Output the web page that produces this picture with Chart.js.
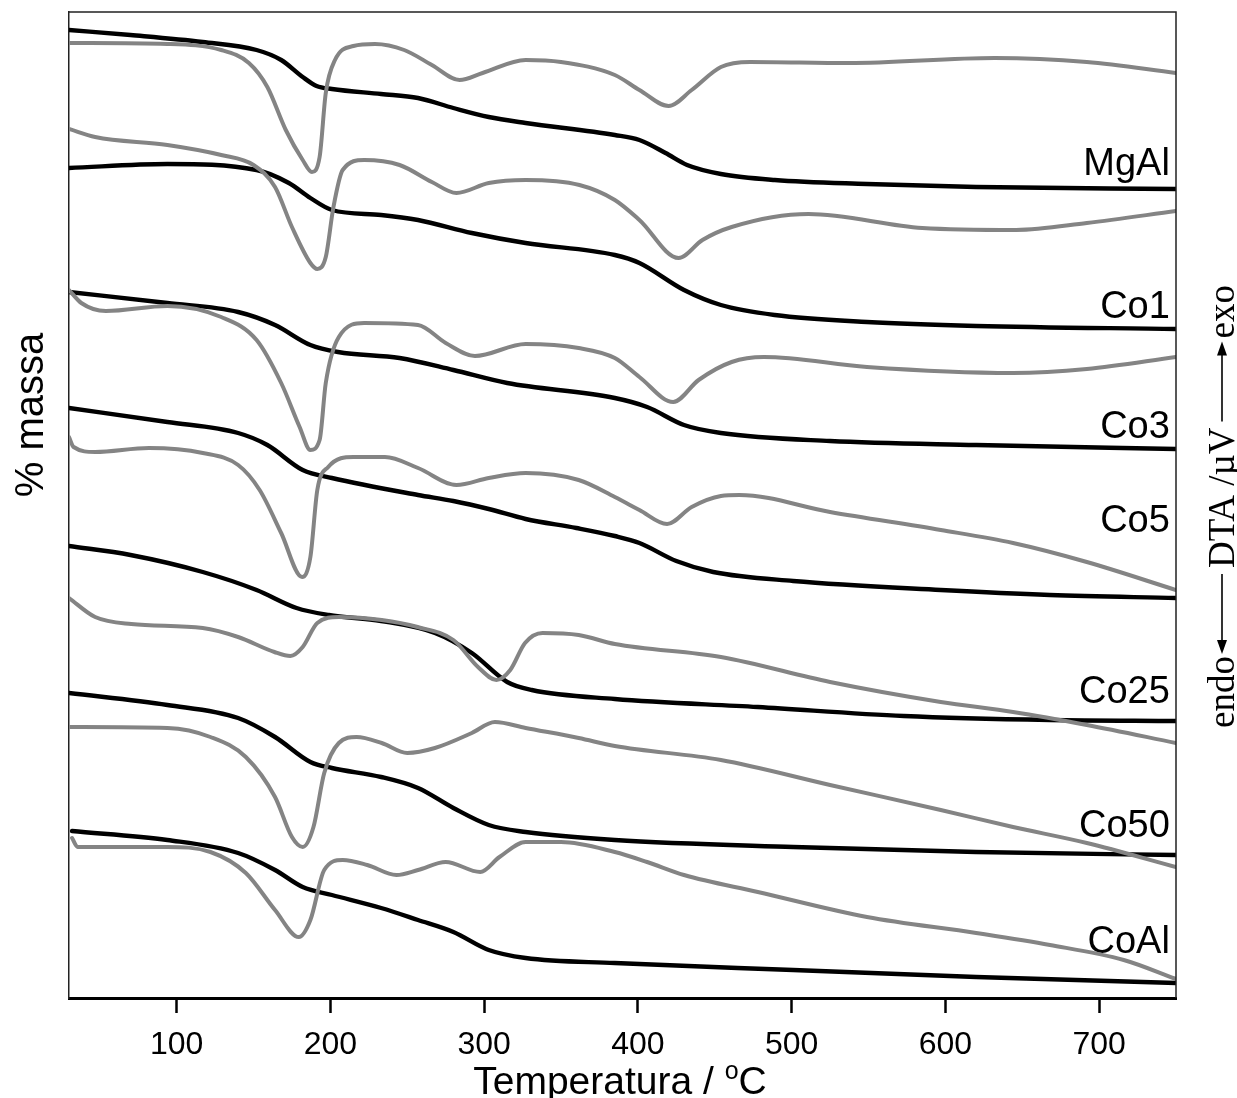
<!DOCTYPE html>
<html>
<head>
<meta charset="utf-8">
<script src="https://cdn.jsdelivr.net/npm/chart.js@4/dist/chart.umd.min.js"></script>
<style>
  html, body { margin: 0; padding: 0; background: #fff; }
  #wrap { width: 1237px; height: 1098px; }
</style>
</head>
<body>
<div id="wrap"><canvas id="tgdta"></canvas></div>
<script>
// samples, top to bottom
var samples = ['MgAl', 'Co1', 'Co3', 'Co5', 'Co25', 'Co50', 'CoAl'];

// TG curves: [temperature / °C, % massa (offset, a.u.)]
var tgMgAl = [[30,968],[70,963],[117,956],[152,948],[168,938],[182,921],[191,912],[201,909],[233,904],[257,900],[280,890],[303,881],[327,875],[385,863],[401,858],[418,845],[432,833],[454,824],[489,818],[549,814],[620,811],[750,809]];
var tgCo1 = [[30,830],[94,834],[152,828],[173,815],[187,800],[201,788],[233,783],[257,778],[292,765],[327,755],[385,743],[401,735],[430,708],[454,693],[489,683],[549,676],[620,672],[750,669]];
var tgCo3 = [[30,706],[94,695],[140,686],[164,673],[187,653],[205,646],[245,640],[280,628],[315,615],[385,600],[406,591],[430,573],[454,565],[525,557],[620,553],[750,549]];
var tgCo5 = [[30,590],[94,576],[140,565],[159,553],[182,528],[201,520],[257,503],[280,497],[303,489],[327,479],[360,470],[385,462],[401,455],[425,437],[449,426],[501,417],[597,408],[668,403],[750,400]];
var tgCo25 = [[30,452],[70,443],[117,426],[152,408],[178,390],[199,383],[233,377],[268,365],[292,345],[315,316],[331,308],[385,299],[478,291],[573,282],[668,278],[750,277]];
var tgCo50 = [[30,305],[94,293],[140,280],[164,261],[187,236],[201,230],[233,221],[257,210],[280,190],[303,173],[327,166],[385,158],[501,151],[620,146],[750,143]];
var tgCoAl = [[32,167],[94,158],[140,145],[164,128],[182,111],[201,103],[233,90],[257,78],[280,66],[303,48],[327,40],[385,35],[501,28],[620,21],[750,15]];

// DTA curves: [temperature / °C, µV (offset, a.u.)]
var dtaMgAl = [[30,955],[94,954],[129,948],[147,935],[159,911],[171,868],[182,838],[188,826],[193,841],[197,905],[203,938],[215,952],[229,954],[248,948],[266,933],[284,918],[299,925],[327,938],[350,936],[385,923],[401,908],[420,892],[435,908],[454,931],[473,936],[537,935],[632,940],[692,936],[750,925]];
var dtaCo1 = [[30,869],[47,861],[94,853],[129,843],[150,833],[164,811],[175,771],[187,735],[191.5,729],[197,741],[202,791],[208,828],[222,838],[245,833],[266,816],[282,805],[303,815],[327,818],[362,813],[385,798],[401,778],[426.5,740],[442,758],[461,771],[511,784],[585,770],[646,768],[692,775],[750,787]];
var dtaCo3 = [[30,708],[38,695],[54,687],[94,692],[129,681],[152,658],[168,615],[180,571],[187,548],[193,558],[197,615],[205.5,661],[222,675],[257,673],[275,655],[294,642],[327,654],[361.5,650],[385,640],[401,621],[423,596],[439.5,618],[461,636],[482,641],[549,631],[644,625],[692,629],[750,641]];
var dtaCo5 = [[30,561],[33,551],[47,546],[82,550],[117,545],[140,533],[154,508],[168,465],[181.6,421],[187,441],[191.5,508],[198.6,531],[215,541],[235.5,541],[257,530],[282,513],[303,520],[327,525],[361.5,518],[385,501],[401,488],[419,474],[435,491],[454,502],[466,503],[525,486],[597,468],[644,455],[692,436],[750,408]];
var dtaCo25 = [[30,400],[47,381],[70.5,374],[117,370],[140,361],[163.6,346],[174,342],[182,351],[191.5,375],[205.5,381],[233.4,378],[256.7,371],[280,358],[296,331],[308,318],[317,328],[326.6,355],[338,365],[361.5,363],[385,354],[454,341],[525,316],[597,296],[644,286],[692,273],[750,255]];
var dtaCo50 = [[30,271],[94,270],[122,261],[145,241],[164,201],[175,161],[182,151],[189,171],[196,225],[205.5,255],[217,261],[233.4,255],[250,245],[268,250],[292,265],[307,276],[327,270],[361.5,260],[385,252],[454,238],[525,213],[597,188],[644,171],[692,155],[750,131]];
var dtaCoAl = [[32,160],[35.6,151],[94,151],[122,146],[145,125],[164,88],[179.5,61],[187,78],[196,128],[208,138],[224,133],[243,123],[257,128],[275,136],[297.5,126],[310,141],[327,156],[350,156],[385,146],[406,136],[430,123],[478,106],[549,81],[620,65],[668,53],[716,38],[750,19]];

var tgCurves = [tgMgAl, tgCo1, tgCo3, tgCo5, tgCo25, tgCo50, tgCoAl];
var dtaCurves = [dtaMgAl, dtaCo1, dtaCo3, dtaCo5, dtaCo25, dtaCo50, dtaCoAl];

// x axis ticks
var xTicks = [100, 200, 300, 400, 500, 600, 700];

// where the sample names sit (temperature of right edge, signal level of baseline)
var labelT = 746;
var labelLevel = [823, 680, 560, 466, 295, 161, 45];

var SANS = '"Liberation Sans", Arial, sans-serif';
var SERIF = '"Liberation Serif", "Times New Roman", serif';

var datasets = [];
dtaCurves.forEach(function (d, i) {
  datasets.push({ label: 'DTA ' + samples[i], data: d, borderColor: '#848484', borderWidth: 4 });
});
tgCurves.forEach(function (d, i) {
  datasets.push({ label: 'TG ' + samples[i], data: d, borderColor: '#000', borderWidth: 4.4 });
});

function arrow(ctx, from, to, v) {
  // shaft along u, head at "to"
  var dir = to > from ? 1 : -1;
  ctx.beginPath();
  ctx.moveTo(from, v);
  ctx.lineTo(to - dir * 12, v);
  ctx.stroke();
  ctx.beginPath();
  ctx.moveTo(to, v);
  ctx.lineTo(to - dir * 14, v - 5);
  ctx.lineTo(to - dir * 14, v + 5);
  ctx.closePath();
  ctx.fill();
}

var decor = {
  id: 'decor',
  beforeDatasetsDraw: function (chart) {
    var ctx = chart.ctx, x = chart.scales.x, y = chart.scales.y;
    ctx.save();
    ctx.font = '38px ' + SANS;
    ctx.fillStyle = '#000';
    ctx.textAlign = 'right';
    ctx.textBaseline = 'alphabetic';
    samples.forEach(function (s, i) {
      ctx.fillText(s, x.getPixelForValue(labelT), y.getPixelForValue(labelLevel[i]));
    });
    ctx.restore();
  },
  afterDraw: function (chart) {
    var ctx = chart.ctx, a = chart.chartArea;
    ctx.save();

    // top and right frame
    ctx.strokeStyle = '#222';
    ctx.lineWidth = 1.5;
    ctx.beginPath();
    ctx.moveTo(a.left, a.top);
    ctx.lineTo(a.right, a.top);
    ctx.lineTo(a.right, a.bottom);
    ctx.stroke();

    ctx.fillStyle = '#000';
    ctx.textBaseline = 'alphabetic';

    // x title with superscript degree
    ctx.font = '39px ' + SANS;
    var t1 = 'Temperatura / ', t3 = 'C';
    var w1 = ctx.measureText(t1).width, w3 = ctx.measureText(t3).width;
    ctx.font = '25px ' + SANS;
    var w2 = ctx.measureText('o').width;
    var sx = 620 - (w1 + w2 + w3) / 2, by = 1094;
    ctx.font = '39px ' + SANS;
    ctx.textAlign = 'left';
    ctx.fillText(t1, sx, by);
    ctx.fillText(t3, sx + w1 + w2, by);
    ctx.font = '25px ' + SANS;
    ctx.fillText('o', sx + w1, by - 15);

    // left title
    ctx.save();
    ctx.translate(43, 415);
    ctx.rotate(-Math.PI / 2);
    ctx.font = '40px ' + SANS;
    ctx.textAlign = 'center';
    ctx.fillText('% massa', 0, 0);
    ctx.restore();

    // right title: endo <-- DTA /µV --> exo
    ctx.save();
    ctx.translate(1234, 0);
    ctx.rotate(-Math.PI / 2);
    ctx.font = '37px ' + SERIF;
    ctx.textAlign = 'left';
    ctx.lineWidth = 1.6;
    ctx.strokeStyle = '#000';
    var u = -728, L = 80, mid = -12;
    ctx.fillText('endo', u, 0);
    u += ctx.measureText('endo').width + 2;
    arrow(ctx, u + L, u, mid);
    u += L + 6;
    ctx.fillText('DTA /\u00b5V', u, 0);
    u += ctx.measureText('DTA /\u00b5V').width + 6;
    arrow(ctx, u, u + L, mid);
    u += L + 3;
    ctx.fillText('exo', u, 0);
    ctx.restore();

    ctx.restore();
  }
};

new Chart(document.getElementById('tgdta'), {
  type: 'line',
  data: { datasets: datasets },
  options: {
    responsive: true,
    maintainAspectRatio: false,
    animation: false,
    devicePixelRatio: 1,
    layout: { padding: { top: 12, right: 61, left: 0, bottom: 0 } },
    elements: {
      point: { radius: 0 },
      line: { cubicInterpolationMode: 'monotone', fill: false, borderCapStyle: 'round', borderJoinStyle: 'round' }
    },
    plugins: { legend: { display: false }, tooltip: { enabled: false } },
    scales: {
      x: {
        type: 'linear',
        min: 30,
        max: 750,
        afterBuildTicks: function (s) { s.ticks = xTicks.map(function (v) { return { value: v }; }); },
        afterFit: function (s) { s.height = 100; },
        ticks: { font: { family: SANS, size: 32 }, color: '#000', padding: 13, maxRotation: 0 },
        grid: { drawOnChartArea: false, drawTicks: true, tickLength: 15, tickWidth: 2.5, tickColor: '#000' },
        border: { display: true, width: 3, color: '#000' }
      },
      y: {
        min: 0,
        max: 986,
        afterFit: function (s) { s.width = 69; },
        ticks: { display: false },
        grid: { drawOnChartArea: false, drawTicks: false },
        border: { display: true, width: 1.5, color: '#222' }
      }
    }
  },
  plugins: [decor]
});
</script>
</body>
</html>
